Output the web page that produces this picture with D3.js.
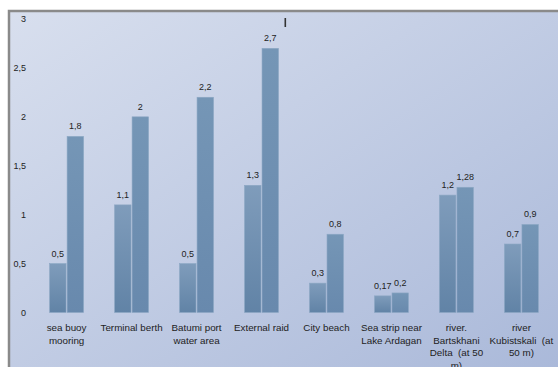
<!DOCTYPE html>
<html>
<head>
<meta charset="utf-8">
<script src="https://cdn.jsdelivr.net/npm/d3@7"></script>
<style>
  body { margin: 0; background: #fff; }
  svg { display: block; font-family: "Liberation Sans", Arial, sans-serif; }
  .cat { white-space: pre; }
</style>
</head>
<body>
<svg id="chart"></svg>
<script>
// values
var categories = [
  ["sea buoy", "mooring"],
  ["Terminal berth"],
  ["Batumi port", "water area"],
  ["External raid"],
  ["City beach"],
  ["Sea strip near", "Lake Ardagan"],
  ["river.", "Bartskhani", "Delta  (at 50", "m)"],
  ["river", "Kubistskali  (at", "50 m)"]
];
var seriesA = [0.5, 1.1, 0.5, 1.3, 0.3, 0.17, 1.2, 0.7];
var seriesB = [1.8, 2, 2.2, 2.7, 0.8, 0.2, 1.28, 0.9];
var yTicks = [0, 0.5, 1, 1.5, 2, 2.5, 3];

var W = 558, H = 367;
var margin = { top: 19, right: 4, bottom: 54, left: 34 },
  width = W - margin.left - margin.right,
  height = H - margin.top - margin.bottom;

var fmt = function(v) { return String(v).replace(".", ","); };

var svg = d3.select("#chart").attr("width", W).attr("height", H);

var defs = svg.append("defs");
var bg = defs.append("linearGradient").attr("id", "bg")
  .attr("x1", 0).attr("y1", 0).attr("x2", 1).attr("y2", 1);
bg.append("stop").attr("offset", "0%").attr("stop-color", "#d8dfee");
bg.append("stop").attr("offset", "100%").attr("stop-color", "#a9b8d9");

var gA = defs.append("linearGradient").attr("id", "barA")
  .attr("x1", 0).attr("y1", 0).attr("x2", 0).attr("y2", 1);
gA.append("stop").attr("offset", "0%").attr("stop-color", "#7f9cbb");
gA.append("stop").attr("offset", "100%").attr("stop-color", "#6183a6");

var gB = defs.append("linearGradient").attr("id", "barB")
  .attr("x1", 0).attr("y1", 0).attr("x2", 0).attr("y2", 1);
gB.append("stop").attr("offset", "0%").attr("stop-color", "#7596b6");
gB.append("stop").attr("offset", "100%").attr("stop-color", "#6889ad");

// chart area with border
svg.append("rect")
  .attr("x", 9).attr("y", 11)
  .attr("width", W).attr("height", H)
  .attr("fill", "url(#bg)")
  .attr("stroke", "#8a8a8a").attr("stroke-width", 2.5);

var g = svg.append("g")
  .attr("transform", "translate(" + margin.left + "," + margin.top + ")");

var x = d3.scaleBand()
  .domain(d3.range(categories.length))
  .range([0, 8 * 65])
  .paddingInner(0.477)
  .paddingOuter(0.24);

var y = d3.scaleLinear()
  .domain([0, 3])
  .range([height - 0.5, 0]);

var inner = d3.scaleBand()
  .domain([0, 1])
  .range([0, x.bandwidth()])
  .paddingInner(0.06);

var yAxis = d3.axisLeft(y)
  .tickValues(yTicks)
  .tickSize(0)
  .tickPadding(8)
  .tickFormat(fmt);

var ya = g.append("g").attr("class", "y axis").call(yAxis);
ya.select(".domain").remove();
ya.selectAll("text").attr("font-size", 9).attr("fill", "#222");

var rows = seriesA.map(function(a, i) { return { i: i, a: a, b: seriesB[i] }; });

var groups = g.selectAll(".grp")
    .data(rows)
  .enter().append("g")
    .attr("class", "grp")
    .attr("transform", function(d) { return "translate(" + x(d.i) + ",0)"; });

[["a", "url(#barA)", 0], ["b", "url(#barB)", 1]].forEach(function(s) {
  groups.append("rect")
    .attr("x", inner(s[2]))
    .attr("y", function(d) { return y(d[s[0]]); })
    .attr("width", inner.bandwidth())
    .attr("height", function(d) { return y(0) - y(d[s[0]]); })
    .attr("fill", s[1])
    .attr("stroke", "#8ca7c4").attr("stroke-width", 0.6);

  groups.append("text")
    .attr("x", inner(s[2]) + inner.bandwidth() / 2)
    .attr("y", function(d) { return y(d[s[0]]) - 7; })
    .attr("text-anchor", "middle")
    .attr("font-size", 9)
    .attr("fill", "#222")
    .text(function(d) { return fmt(d[s[0]]); });
});

// category labels
groups.append("text")
  .attr("class", "cat")
  .attr("x", x.bandwidth() / 2)
  .attr("y", height + 18)
  .attr("text-anchor", "middle")
  .attr("font-size", 9.8)
  .attr("fill", "#222")
  .selectAll("tspan")
    .data(function(d) { return categories[d.i]; })
  .enter().append("tspan")
    .attr("x", x.bandwidth() / 2)
    .attr("dy", function(d, j) { return j ? 12.5 : 0; })
    .text(function(d) { return d; });

// small cursor mark near the top
svg.append("rect")
  .attr("x", 284.5).attr("y", 18).attr("width", 1.6).attr("height", 9)
  .attr("fill", "#333");
</script>
</body>
</html>
